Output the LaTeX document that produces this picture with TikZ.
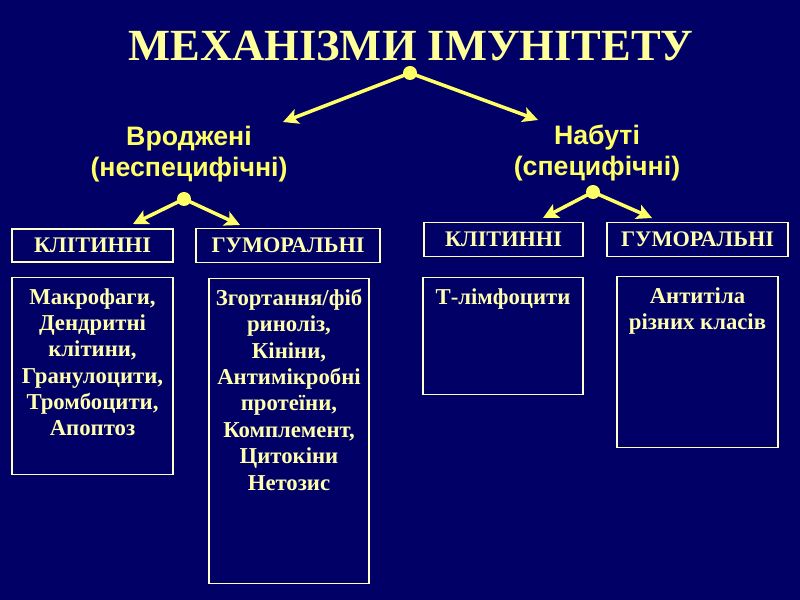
\documentclass[tikz,border=0pt]{standalone}
\usepackage{fontspec}
\setmainfont{Liberation Serif}
\newfontfamily\headfont{Liberation Sans}
\usepackage{tikz}
\usetikzlibrary{arrows.meta}
\definecolor{slidenavy}{RGB}{0,0,102}
\definecolor{titleyellow}{RGB}{255,255,153}
\definecolor{armyellow}{RGB}{255,255,102}
\definecolor{boxline}{RGB}{255,255,204}
\definecolor{boxtext}{RGB}{255,255,175}
\newcommand{\mechtext}[3]{\parbox[t][#1][t]{#2}{\centering\vspace*{9pt}#3}}

\begin{document}
\begin{tikzpicture}[>=Stealth, x=0.03cm, y=-0.03cm,
  dot/.style={circle, fill=armyellow, inner sep=0pt, minimum size=0.42cm},
  arm/.style={-{Stealth[length=13pt, width=13pt, inset=3pt]}, armyellow, line width=3pt},
  headtext/.style={armyellow, align=center, font=\headfont\bfseries\fontsize{22.8}{26.5}\selectfont},
  kindbox/.style={draw=boxline, line width=1.2pt, inner sep=0pt, minimum height=1.02cm, text=boxtext, font=\bfseries\fontsize{19}{22.5}\selectfont},
  cellbox/.style={draw=boxline, line width=1.2pt, inner sep=0pt, anchor=north, text=boxtext, font=\bfseries\fontsize{19.4}{22.5}\selectfont}]
\fill[slidenavy] (0,0) rectangle (800,600);
\useasboundingbox (0,0) rectangle (800,600);

\node[titleyellow, anchor=base, font=\bfseries\fontsize{38}{44}\selectfont] (title) at (411,61) {МЕХАНІЗМИ ІМУНІТЕТУ};

\node[headtext] (innate) at (189,154) {Вроджені\\(неспецифічні)};
\node[headtext] (acquired) at (597,153) {Набуті\\(специфічні)};

\node[kindbox, minimum width=4.83cm, minimum height=0.99cm] (cellA) at (92.5,245.5) {КЛІТИННІ};
\node[kindbox, minimum width=5.52cm] (humA) at (288,245.5) {ГУМОРАЛЬНІ};
\node[kindbox, minimum width=4.77cm] (cellB) at (503.5,239.5) {КЛІТИННІ};
\node[kindbox, minimum width=5.43cm] (humB) at (697.5,239.5) {ГУМОРАЛЬНІ};

\node[cellbox] (macro) at (92.5,277) {\mechtext{5.91cm}{4.83cm}{Макрофаги,\\Дендритні\\клітини,\\Гранулоцити,\\Тромбоцити,\\Апоптоз}};
\node[cellbox] (coag) at (289,278) {\mechtext{9.15cm}{4.8cm}{Згортання/фіб\\риноліз,\\Кініни,\\Антимікробні\\протеїни,\\Комплемент,\\Цитокіни\\Нетозис}};
\node[cellbox] (tlym) at (503,277) {\mechtext{3.51cm}{4.8cm}{Т-лімфоцити}};
\node[cellbox] (antib) at (697.5,276) {\mechtext{5.13cm}{4.83cm}{Антитіла\\різних класів}};

\node[dot] (top) at (410,73) {};
\node[dot] (innatedot) at (184,199) {};
\node[dot] (acqdot) at (593,192) {};

\coordinate (innatetip) at (283,122);
\coordinate (acqtip) at (538,120);
\coordinate (cellAtip) at (133,224);
\coordinate (humAtip) at (240,225);
\coordinate (cellBtip) at (543,218);
\coordinate (humBtip) at (652,218);

\draw[arm] (top.center) -- (innatetip);
\draw[arm] (top.center) -- (acqtip);
\draw[arm] (innatedot.center) -- (cellAtip);
\draw[arm] (innatedot.center) -- (humAtip);
\draw[arm] (acqdot.center) -- (cellBtip);
\draw[arm] (acqdot.center) -- (humBtip);
\end{tikzpicture}
\end{document}
